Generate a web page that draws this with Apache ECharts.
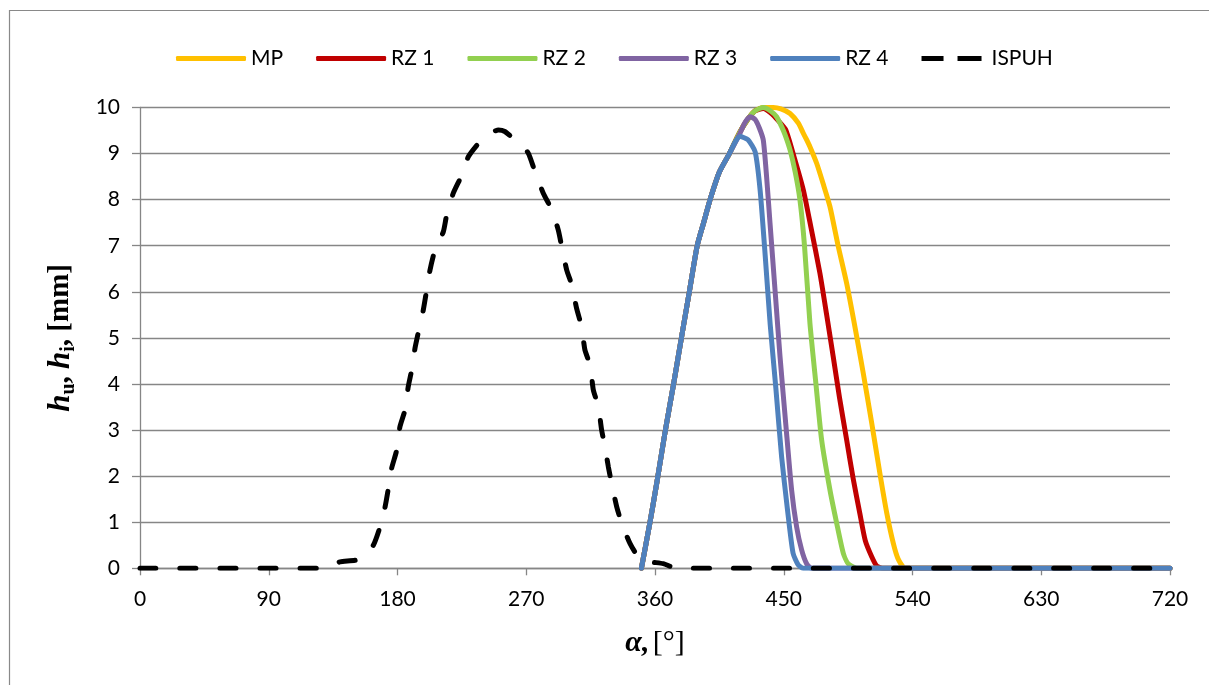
<!DOCTYPE html>
<html>
<head>
<meta charset="utf-8">
<script src="https://cdn.jsdelivr.net/npm/echarts@6/dist/echarts.min.js"></script>
<style>
html,body{margin:0;padding:0;background:#fff;}
#c{width:1209px;height:685px;}
</style>
</head>
<body>
<div id="c"></div>
<script>
// Series names (legend order)
const seriesNames = ['MP', 'RZ 1', 'RZ 2', 'RZ 3', 'RZ 4', 'ISPUH'];
// x ticks (crank angle, deg)
const xTicks = [0, 90, 180, 270, 360, 450, 540, 630, 720];
const yTicks = [0, 1, 2, 3, 4, 5, 6, 7, 8, 9, 10];

// [angle, lift] pairs
const MP = [[350.5,0],[356.5,1.0],[361.5,1.9],[367,2.95],[373,4.0],[379,5.1],[384,6.0],[389.5,7.0],[394,7.5],[399,8.05],[405,8.6],[412,9.0],[419,9.45],[425,9.75],[430,9.93],[435.7,10.0],[442.7,10.0],[448,9.97],[454.4,9.87],[460.2,9.66],[463.7,9.44],[466,9.3],[468.3,9.15],[473,8.79],[477.5,8.35],[482.3,7.85],[488,7.0],[494,6.18],[500,5.2],[505.6,4.23],[511.5,3.15],[517.2,2.06],[522,1.2],[526.6,0.54],[530,0.2],[535,0],[720,0]];
const RZ1 = [[350.5,0],[356.5,1.0],[361.5,1.9],[367,2.95],[373,4.0],[379,5.1],[384,6.0],[389.5,7.0],[394,7.5],[399,8.05],[405,8.6],[412,9.0],[419,9.45],[425,9.75],[430,9.93],[435.7,9.98],[441,9.88],[446,9.72],[451.3,9.52],[457,8.95],[463.7,8.21],[469,7.4],[475.3,6.4],[480,5.5],[484.6,4.59],[489,3.7],[494,2.78],[498.5,1.95],[503.2,1.19],[507,0.6],[511.5,0.25],[515,0.05],[519.6,0],[720,0]];
const RZ2 = [[350.5,0],[356.5,1.0],[361.5,1.9],[367,2.95],[373,4.0],[379,5.1],[384,6.0],[389.5,7.0],[394,7.5],[399,8.05],[405,8.6],[412,9.0],[419,9.45],[425,9.75],[430,9.93],[435.7,10.0],[441,9.92],[445,9.8],[448.6,9.58],[451,9.4],[454.4,9.08],[458,8.6],[461.3,8.0],[464.5,7.0],[468.3,5.32],[472.5,4.0],[476.5,2.78],[482.3,1.7],[487,0.98],[491.6,0.33],[495,0.1],[501,0],[720,0]];
const RZ3 = [[350.5,0],[356.5,1.0],[361.5,1.9],[367,2.95],[373,4.0],[379,5.1],[384,6.0],[389.5,7.0],[394,7.5],[399,8.05],[405,8.6],[412,9.0],[419.4,9.44],[423,9.68],[426.5,9.8],[430,9.74],[433,9.55],[435.7,9.29],[438,8.5],[440.4,7.49],[444,6.0],[447.4,4.59],[451.5,3.1],[455.5,1.7],[459,0.9],[462.5,0.4],[466,0.1],[469.5,0],[720,0]];
const RZ4 = [[350.5,0],[356.5,1.0],[361.5,1.9],[367,2.95],[373,4.0],[379,5.1],[384,6.0],[389.5,7.0],[394,7.5],[399,8.05],[405,8.6],[412,9.0],[416,9.25],[419.5,9.37],[425,9.3],[430,9.04],[433.5,8.2],[437,6.8],[440.5,5.3],[444.5,3.9],[448.5,2.42],[452.5,1.3],[456.5,0.33],[460,0.08],[463.5,0],[720,0]];
const ISPUH = [[0,0],[125,0],[132,0.05],[139.8,0.14],[151.5,0.18],[157,0.3],[163.1,0.5],[167.8,0.9],[171.3,1.33],[173.6,1.73],[175.9,2.17],[179.4,2.56],[181.7,3.07],[185.2,3.43],[187.5,3.94],[189.9,4.3],[192.2,4.77],[195.2,5.21],[198,5.6],[200.4,6.04],[202.7,6.47],[206.2,6.91],[212,7.3],[214.4,7.67],[219,8.14],[224.9,8.53],[229.5,8.93],[237.7,9.26],[245,9.45],[250.5,9.51],[255,9.48],[260.9,9.33],[266,9.2],[271.4,9.01],[276.1,8.61],[281.9,8.14],[287.8,7.78],[292.4,7.34],[294.8,6.98],[298.3,6.47],[301.8,6.15],[305.2,5.64],[308.7,5.24],[311,4.74],[314.6,4.41],[316.9,3.87],[320.4,3.51],[322.7,3.0],[325,2.64],[327.4,2.2],[329.7,1.84],[333.2,1.34],[336.7,0.98],[342.5,0.54],[348.3,0.25],[355,0.15],[365.8,0.1],[375,0],[720,0]];

const colors = ['#FFC000', '#C00000', '#92D050', '#8064A2', '#4F81BD', '#000000'];
const seriesData = [MP, RZ1, RZ2, RZ3, RZ4, ISPUH];

const chart = echarts.init(document.getElementById('c'), null, {renderer: 'canvas'});
const axisGray = '#868686';
const labelFont = 'Lato, "Open Sans", sans-serif';
const serif = '"Liberation Serif", "DejaVu Serif", serif';

const dashIcon = 'path://M0,0 L22,0 L22,5 L0,5 Z M36,0 L60,0 L60,5 L36,5 Z';

const option = {
  backgroundColor: '#fff',
  animation: false,
  graphic: [{
    type: 'rect', silent: true, z: -1,
    shape: {x: 9.5, y: 10.5, width: 1300, height: 800},
    style: {fill: 'none', stroke: '#898989', lineWidth: 1.2}
  }],
  legend: {
    left: 171, top: 43,
    itemWidth: 70, itemHeight: 5, itemGap: 33,
    textStyle: {fontFamily: labelFont, fontSize: 21, color: '#000'},
    data: seriesNames.map((n, i) => i === 5
      ? {name: n, icon: dashIcon, itemStyle: {color: '#000'}}
      : {name: n, icon: 'roundRect'})
  },
  grid: {left: 140, right: 39, top: 107.5, bottom: 116.7, containLabel: false},
  xAxis: {
    type: 'value', min: 0, max: 720, interval: 90,
    name: '{i|α,} {r|[°]}',
    nameLocation: 'middle', nameGap: 60,
    nameTextStyle: {
      rich: {
        i: {fontFamily: serif, fontStyle: 'italic', fontWeight: 'bold', fontSize: 30, color: '#000'},
        r: {fontFamily: serif, fontSize: 30, color: '#000'}
      }
    },
    axisLine: {show: true, onZero: false, lineStyle: {color: axisGray, width: 1.3}},
    axisTick: {show: true, length: 7, lineStyle: {color: axisGray, width: 1.3}},
    axisLabel: {margin: 20, fontFamily: labelFont, fontSize: 21, color: '#000',
      formatter: v => xTicks.indexOf(v) >= 0 ? String(v) : ''},
    splitLine: {show: false}
  },
  yAxis: {
    type: 'value', min: 0, max: 10, interval: 1,
    name: '{b|h}{s|u}{c|, }{b|h}{s|i}{c|, [mm]}',
    nameLocation: 'middle', nameRotate: 90, nameGap: 60,
    nameTextStyle: {
      rich: {
        b: {fontFamily: serif, fontStyle: 'italic', fontWeight: 'bold', fontSize: 31, color: '#000', lineHeight: 38},
        s: {fontFamily: serif, fontWeight: 'bold', fontSize: 20, color: '#000', padding: [16, 0, 0, 0]},
        c: {fontFamily: serif, fontWeight: 'bold', fontSize: 29, color: '#000', lineHeight: 38}
      }
    },
    axisLine: {show: true, lineStyle: {color: axisGray, width: 1.3}},
    axisTick: {show: true, length: 8, lineStyle: {color: axisGray, width: 1.3}},
    axisLabel: {margin: 20, fontFamily: labelFont, fontSize: 21, color: '#000',
      formatter: v => yTicks.indexOf(v) >= 0 ? String(v) : ''},
    splitLine: {show: true, lineStyle: {color: axisGray, width: 1.3}}
  },
  series: seriesNames.map((name, i) => ({
    name: name,
    type: 'line',
    data: seriesData[i],
    showSymbol: false,
    symbol: 'none',
    smooth: 0.2,
    z: 2 + i,
    color: colors[i],
    lineStyle: i === 5
      ? {color: colors[i], width: 5, type: [16, 24], cap: 'round', join: 'round'}
      : {color: colors[i], width: 5, cap: 'round', join: 'round'}
  }))
};
chart.setOption(option);
</script>
</body>
</html>
